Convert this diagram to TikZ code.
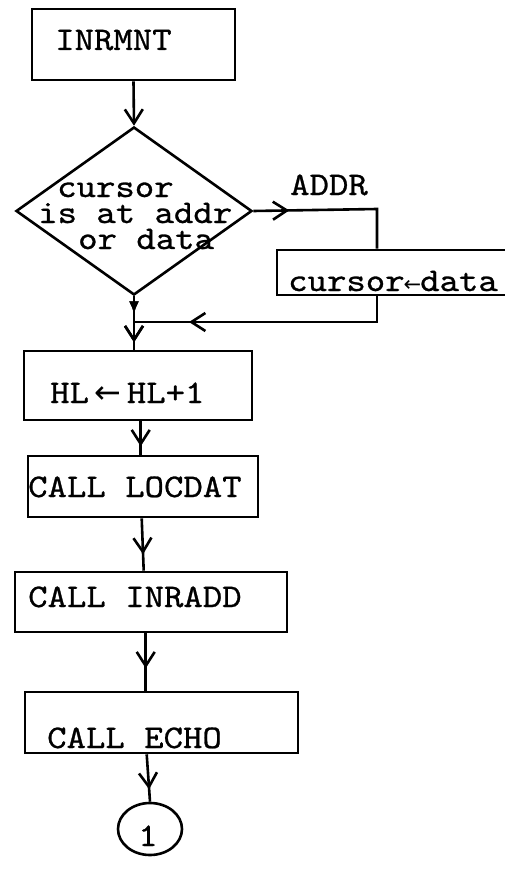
\documentclass[tikz,border=0pt]{standalone}
\usepackage{fontspec}
\newfontfamily\twfont{lmmono10-regular.otf}[FakeStretch=1.12, FakeBold=0.8]
\newfontfamily\arrowfont{DejaVu Sans}
\usetikzlibrary{arrows.meta,shapes.geometric,decorations.markings}

\tikzset{
  flow/.style={line width=2.6pt},
  box/.style={draw, line width=2.6pt, rectangle, inner sep=0pt},
  lbl/.style={anchor=base west, inner sep=0pt, font=\twfont\fontsize{33}{26}\selectfont},
  barb/.style={-{Straight Barb[length=14pt,width=18pt,line width=2.6pt]}},
  midbarb/.style={postaction={decorate},
    decoration={markings, mark=at position #1 with {\arrow{Straight Barb[length=14pt,width=18pt,line width=2.6pt]}}}},
  midblob/.style={postaction={decorate},
    decoration={markings, mark=at position #1 with {\arrow{Latex[length=13pt,width=10pt]}}}},
}
\newcommand{\assignarrow}[1]{{\arrowfont\fontsize{#1}{#1}\selectfont ←}}

\begin{document}
\begin{tikzpicture}[x=1pt,y=-1pt]
  \useasboundingbox (0,0) rectangle (505,869);
  \clip (0,0) rectangle (505,869);

  % process boxes
  \node[box, minimum width=203pt, minimum height=71pt] (inrmnt) at (133.5,44.5) {};
  \node[draw, line width=2.6pt, diamond, inner sep=0pt, minimum width=236pt, minimum height=168pt] (dia) at (134,211) {};
  \node[box, minimum width=243pt, minimum height=45pt] (cd) at (398.5,272.5) {};
  \node[box, minimum width=228pt, minimum height=69pt] (hl) at (138,385.5) {};
  \node[box, minimum width=230pt, minimum height=61pt] (loc) at (143,486.5) {};
  \node[box, minimum width=272pt, minimum height=60pt] (inradd) at (151,602) {};
  \node[box, minimum width=273pt, minimum height=61pt] (echo) at (161.5,722.5) {};
  \node[draw, line width=2.6pt, ellipse, inner sep=0pt, minimum width=64pt, minimum height=52pt] (conn) at (150,829) {};

  % texts (the three-line question sits on the baseline of its last line)
  \node[lbl] (tinrmnt) at (55,50) {INRMNT};
  \node[lbl, align=left] (tq) at (38,249) {\hspace*{19pt}cursor\\is at addr\\\hspace*{40pt}or data};
  \node[lbl] (taddr) at (290,195) {ADDR};
  \node[lbl] (tcd) at (288,291) {cursor\kern-1pt\assignarrow{21}\kern-1pt data};
  \node[lbl] (thl) at (50,403) {HL\kern5pt\assignarrow{32}\kern6pt HL+1};
  \node[lbl] (tloc) at (28,497) {CALL LOCDAT};
  \node[lbl] (tinradd) at (28,607) {CALL INRADD};
  \node[lbl] (techo) at (47,748) {CALL ECHO};
  \node[lbl, anchor=base] (tconn) at (148,846) {1};

  % connectors
  \coordinate (addrturn) at (377,209);
  \coordinate (retturn) at (377,322);

  \draw[flow, barb] (inrmnt.south) -- (dia.north);
  \draw[flow, midbarb=36pt] (dia.east) -- (addrturn) -- (addrturn |- cd.north);
  \draw[flow, midbarb=-55pt] (addrturn |- cd.south) -- (retturn) -- (retturn -| dia.south);
  \draw[flow, midblob=18pt, midbarb=46pt] (dia.south) -- (dia.south |- hl.north);
  \draw[flow, midbarb=25pt] ([xshift=118pt]hl.south west) -- ([xshift=114pt]loc.north west);
  \draw[flow, midbarb=36pt] ([xshift=115pt]loc.south west) -- ([xshift=130pt]inradd.north west);
  \draw[flow, midbarb=35pt] ([xshift=132pt]inradd.south west) -- ([xshift=122pt]echo.north west);
  \draw[flow, midbarb=35pt] ([xshift=123pt]echo.south west) -- (conn.north);
\end{tikzpicture}
\end{document}
